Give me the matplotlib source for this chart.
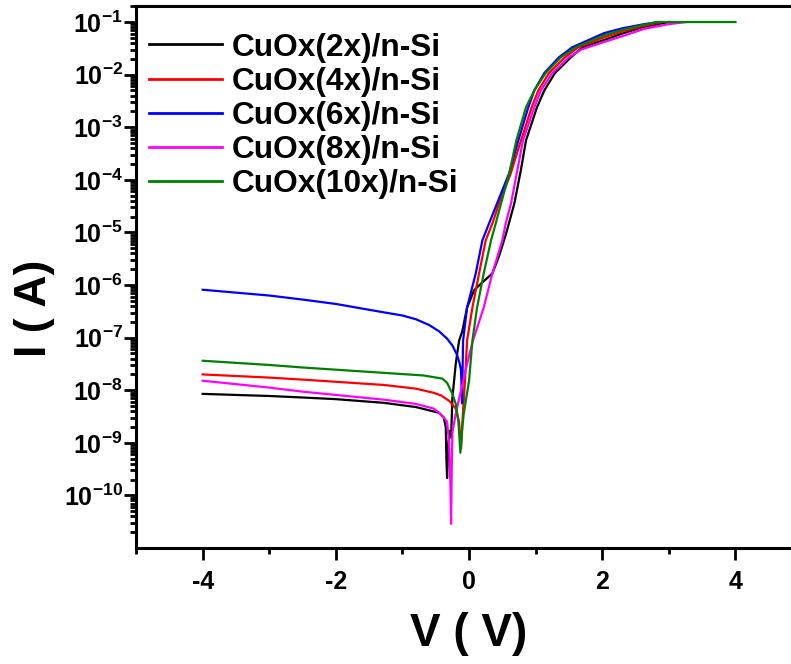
import numpy as np
import matplotlib
matplotlib.use('Agg')
import matplotlib.pyplot as plt
from matplotlib.ticker import FixedLocator, LogLocator, MultipleLocator, NullFormatter

plt.rcParams['font.family'] = ['Liberation Sans', 'DejaVu Sans']
plt.rcParams['font.weight'] = 'bold'
plt.rcParams['mathtext.fontset'] = 'custom'
plt.rcParams['mathtext.rm'] = 'Liberation Sans:bold'
plt.rcParams['mathtext.it'] = 'Liberation Sans:bold'
plt.rcParams['mathtext.bf'] = 'Liberation Sans:bold'

# ── data (voltage in V, log10 of current in A) ──
labels = ['CuOx(2x)/n-Si', 'CuOx(4x)/n-Si', 'CuOx(6x)/n-Si', 'CuOx(8x)/n-Si', 'CuOx(10x)/n-Si']
colors = ['black', 'red', 'blue', 'magenta', 'green']

v_2x = [-4, -3, -2.48, -2, -1.28, -0.8, -0.45, -0.38, -0.35, -0.34, -0.33, -0.31, -0.29, -0.27,
        -0.25, -0.2, -0.15, -0.1, -0.03, 0.075, 0.2, 0.35, 0.45, 0.55, 0.68, 0.78, 0.855, 1.02,
        1.13, 1.29, 1.53, 1.7, 2.03, 2.3, 2.6, 3.0]
logi_2x = [-8.07, -8.11, -8.14, -8.17, -8.24, -8.32, -8.43, -8.52, -8.7, -9.3, -9.67, -9.0, -8.77,
           -8.9, -8.14, -7.5, -7.06, -6.87, -6.43, -6.1, -5.95, -5.78, -5.45, -5.05, -4.45, -3.8,
           -3.25, -2.62, -2.3, -1.97, -1.67, -1.48, -1.34, -1.22, -1.1, -1.0]

v_4x = [-4, -3, -2.48, -2, -1.28, -0.8, -0.53, -0.42, -0.3, -0.2, -0.15, -0.12, -0.1, -0.06,
        -0.03, 0.05, 0.15, 0.25, 0.35, 0.45, 0.62, 0.78, 0.94, 1.04, 1.2, 1.44, 1.64, 2.03, 2.3,
        2.6, 2.9]
logi_4x = [-7.7, -7.76, -7.8, -7.84, -7.9, -7.97, -8.05, -8.1, -8.2, -8.35, -8.6, -9.11, -8.6,
           -7.8, -7.06, -6.43, -5.78, -5.15, -4.83, -4.45, -3.9, -3.25, -2.62, -2.3, -1.97,
           -1.67, -1.48, -1.29, -1.18, -1.08, -1.0]

v_6x = [-4, -3, -2.48, -2, -1.28, -1.0, -0.8, -0.6, -0.45, -0.33, -0.25, -0.18, -0.14, -0.12,
        -0.105, -0.09, -0.03, 0.1, 0.2, 0.3, 0.42, 0.6, 0.74, 0.89, 0.98, 1.13, 1.35, 1.55,
        2.03, 2.3, 2.63, 2.85]
logi_6x = [-6.09, -6.2, -6.28, -6.36, -6.52, -6.58, -6.65, -6.76, -6.88, -7.02, -7.15, -7.33,
           -7.5, -7.63, -8.25, -7.06, -6.43, -5.78, -5.15, -4.83, -4.45, -3.88, -3.25, -2.62,
           -2.3, -1.97, -1.67, -1.48, -1.21, -1.12, -1.04, -1.0]

v_8x = [-4, -3, -2.48, -2, -1.28, -0.8, -0.53, -0.45, -0.38, -0.33, -0.3, -0.28, -0.27, -0.26,
        -0.25, -0.2, -0.12, -0.03, 0.06, 0.22, 0.35, 0.5, 0.55, 0.63, 0.72, 0.81, 0.98, 1.08,
        1.25, 1.5, 1.69, 2.03, 2.3, 2.63, 3.0, 3.27]
logi_8x = [-7.82, -7.95, -8.03, -8.09, -8.18, -8.26, -8.35, -8.43, -8.52, -8.6, -9.0, -9.8,
           -10.54, -9.5, -8.8, -8.45, -8.0, -7.5, -7.05, -6.43, -5.78, -5.15, -4.83, -4.45,
           -3.85, -3.25, -2.62, -2.3, -1.97, -1.67, -1.52, -1.38, -1.27, -1.13, -1.04, -1.0]

v_10x = [-4, -3, -2.48, -2, -1.28, -0.68, -0.4, -0.33, -0.25, -0.2, -0.16, -0.13, -0.1, -0.08,
         0.0, 0.05, 0.12, 0.22, 0.33, 0.4, 0.48, 0.6, 0.71, 0.855, 0.98, 1.15, 1.38, 1.6, 2.03,
         2.3, 2.6, 2.82, 4.0]
logi_10x = [-7.44, -7.52, -7.57, -7.61, -7.67, -7.72, -7.78, -7.86, -8.07, -8.26, -8.6, -9.19,
            -8.7, -8.45, -7.82, -7.06, -6.43, -5.78, -5.15, -4.83, -4.45, -3.9, -3.25, -2.62,
            -2.3, -1.97, -1.67, -1.48, -1.25, -1.15, -1.06, -1.0, -1.0]

volts = [v_2x, v_4x, v_6x, v_8x, v_10x]
logis = [logi_2x, logi_4x, logi_6x, logi_8x, logi_10x]

xticks = [-4, -2, 0, 2, 4]
yticks = [1e-10, 1e-9, 1e-8, 1e-7, 1e-6, 1e-5, 1e-4, 1e-3, 1e-2, 1e-1]

fig = plt.figure(figsize=(7.91, 6.64), dpi=100)
ax = fig.add_axes([0.172, 0.1747, 0.842, 0.8163])

for v, li, c, lab in zip(volts, logis, colors, labels):
    ax.plot(v, 10.0 ** np.asarray(li), color=c, lw=1.6, label=lab)

ax.set_yscale('log')
ax.set_xlim(-5, 5)
ax.set_ylim(1e-11, 10 ** -0.695)

ax.xaxis.set_major_locator(FixedLocator(xticks))
ax.xaxis.set_minor_locator(MultipleLocator(1))
ax.yaxis.set_major_locator(FixedLocator(yticks))
ax.yaxis.set_minor_locator(LogLocator(base=10, subs=np.arange(2, 10), numticks=30))
ax.yaxis.set_minor_formatter(NullFormatter())
ax.set_yticklabels([r'$10^{%d}$' % int(round(np.log10(t))) for t in yticks])
ax.set_xticklabels([str(t) for t in xticks])

for s in ax.spines.values():
    s.set_linewidth(2.2)
ax.tick_params(which='major', direction='out', length=8.5, width=2.0, labelsize=18)
ax.tick_params(which='minor', direction='out', length=4.5, width=2.0)
ax.tick_params(axis='x', which='major', pad=7)
ax.tick_params(axis='y', which='major', pad=1)
for t in ax.get_xticklabels() + ax.get_yticklabels():
    t.set_fontweight('bold')

ax.set_xlabel('V ( V)', fontsize=33, fontweight='bold', labelpad=13)
ax.set_ylabel('I ( A)', fontsize=32, fontweight='bold')
ax.yaxis.set_label_coords(-0.122, 0.443)

leg = ax.legend(loc='upper left', bbox_to_anchor=(0.02, 0.951), frameon=False,
                fontsize=22.8, handlelength=2.3, handletextpad=0.3, labelspacing=0.13,
                borderpad=0, borderaxespad=0)
for t in leg.get_texts():
    t.set_fontweight('bold')
for h in leg.get_lines():
    h.set_linewidth(2.0)

fig.savefig('out.png', dpi=100)
